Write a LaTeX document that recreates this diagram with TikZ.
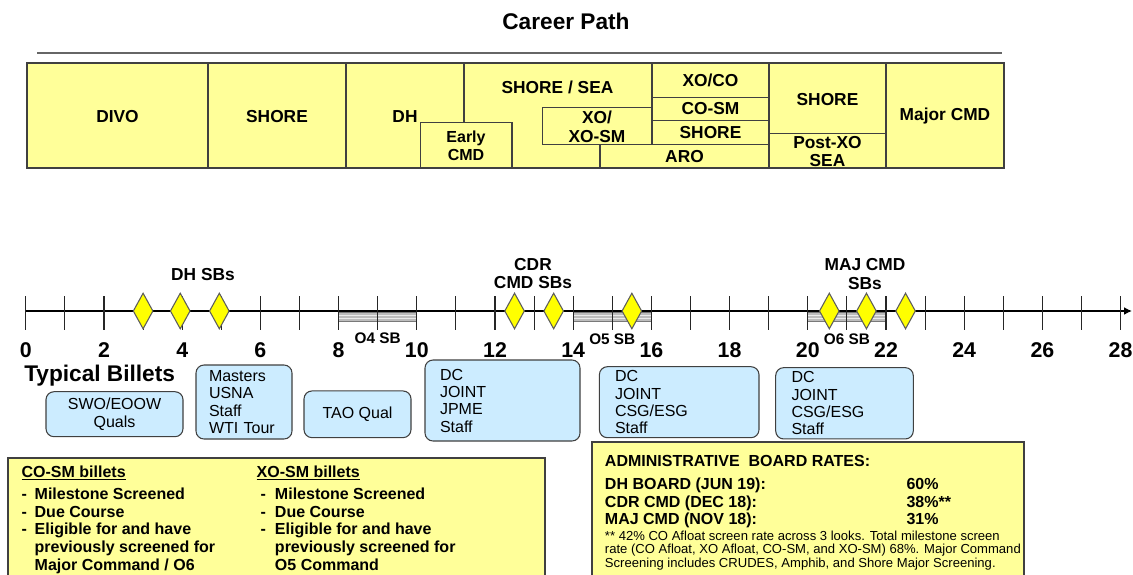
\documentclass[tikz,border=0pt]{standalone}
\usepackage{fontspec}
\setmainfont{Liberation Sans}
\usepackage{xcolor}
\usepackage{tikz}
\usetikzlibrary{arrows.meta, positioning, shapes.geometric, calc}
\definecolor{pathyellow}{HTML}{FFFF99}
\definecolor{billetblue}{HTML}{CCECFF}
\definecolor{gridink}{HTML}{404040}
\definecolor{sbyellow}{HTML}{FFFF00}
\definecolor{bargray}{HTML}{BDBDBD}
\newlength\pxl
\setlength\pxl{0.75pt}
\tikzset{
  declare function={yrx(\t)=25.8+39.1*\t;},
  titletext/.style={font=\bfseries\fontsize{17}{19}\selectfont, inner sep=0pt},
  rulegray/.style={draw=gridink!80, line width=1.1pt},
  cellline/.style={draw=gridink, line width=0.9pt},
  celltext/.style={font=\bfseries\fontsize{13}{14.2}\selectfont, align=center, inner sep=0pt},
  smalltext/.style={font=\bfseries\fontsize{12}{13.5}\selectfont, align=center, inner sep=0pt},
  axisline/.style={draw=black, line width=1.8pt, -{Latex[length=6pt, width=6pt]}},
  tickline/.style={draw=black!85, line width=0.8pt},
  sbbar/.style={draw=gridink!70, fill=bargray, line width=0.6pt},
  barstripe/.style={draw=white!85!gray, line width=0.6pt},
  sbmark/.style={diamond, draw=gridink!85, fill=sbyellow, line width=0.8pt,
    minimum width=20\pxl, minimum height=36\pxl, inner sep=0pt},
  sblabel/.style={font=\bfseries\fontsize{13}{14.2}\selectfont, align=center, inner sep=0pt},
  yearlabel/.style={font=\bfseries\fontsize{16}{16}\selectfont, inner sep=0pt},
  oslabel/.style={font=\bfseries\fontsize{11.5}{12}\selectfont, inner sep=0pt},
  billet/.style={draw=gridink, fill=billetblue, rounded corners=6pt, line width=0.8pt,
    font=\fontsize{12}{13}\selectfont, inner ysep=0pt},
  notebox/.style={draw=gridink, fill=pathyellow, line width=0.9pt},
  notetext/.style={font=\bfseries\fontsize{12}{13.2}\selectfont, inner sep=0pt, anchor=base west}
}
\begin{document}
\begin{tikzpicture}[x=0.75pt, y=-0.75pt]
\useasboundingbox (0,0) rectangle (1133,575);
% title
\node[titletext] (title) at (566,21) {Career Path};
\draw[rulegray] (37,53) -- (1002,53);

% career path table
\fill[pathyellow] (27,63) rectangle (1004,168);
\draw[cellline] (208,63) -- (208,168);
\draw[cellline] (346,63) -- (346,168);
\draw[cellline] (464,63) -- (464,122.7);
\draw[cellline] (652,63) -- (652,144.3);
\draw[cellline] (769,63) -- (769,168);
\draw[cellline] (886,63) -- (886,168);
\draw[cellline] (652,97.3) -- (769,97.3);
\draw[cellline] (652,120.7) -- (769,120.7);
\draw[cellline] (769,133.3) -- (886,133.3);
\draw[cellline, fill=pathyellow] (420.7,122.7) rectangle (512,168);
\draw[cellline, fill=pathyellow] (542.7,107.7) rectangle (652,144.3);
\draw[cellline, fill=pathyellow] (600,144.3) rectangle (769,168);
\draw[cellline] (27,63) rectangle (1004,168);
\node[celltext] (divo) at (117.5,117) {DIVO};
\node[celltext] (shorea) at (277,117) {SHORE};
\node[celltext] (dh) at (405,117) {DH};
\node[smalltext] (earlycmd) at (466,146) {Early\\CMD};
\node[celltext] (shoresea) at (557.5,87.5) {SHORE / SEA};
\node[celltext] (xosm) at (597,127) {XO/\\XO-SM};
\node[celltext] (xoco) at (710.5,80.5) {XO/CO};
\node[celltext] (cosm) at (710.5,109) {CO-SM};
\node[celltext] (shoreb) at (710.5,132.5) {SHORE};
\node[celltext] (aro) at (684.5,156.5) {ARO};
\node[celltext] (shorec) at (827.5,100) {SHORE};
\node[celltext] (postxo) at (827.5,151.5) {Post-XO\\SEA};
\node[celltext] (majcmd) at (945,116.5) {Major CMD};

% timeline
\foreach \a in {8,14,20} {
  \draw[sbbar] ({yrx(\a)},312) rectangle ({yrx(\a+2)},321);
  \draw[barstripe] ({yrx(\a)},315) -- ({yrx(\a+2)},315) ({yrx(\a)},318) -- ({yrx(\a+2)},318);
}
\coordinate (axstart) at ({yrx(0)},311);
\coordinate (axend) at (1132,311);
\draw[axisline] (axstart) -- (axend);
\foreach \t in {0,...,28}
  \draw[tickline] ({yrx(\t)},296) -- ({yrx(\t)},330);
\foreach \t in {0,2,...,28}
  \node[yearlabel] (yr\t) at ({yrx(\t)},350) {\t};
\node[oslabel] (ofoursb) at ({yrx(9)},338) {O4 SB};
\node[oslabel] (ofivesb) at ({yrx(15)},339) {O5 SB};
\node[oslabel] (osixsb) at ({yrx(21)},339) {O6 SB};
\foreach \t [count=\i] in {3,3.95,4.95,12.5,13.5,15.5,20.55,21.5,22.5}
  \node[sbmark] (sb\i) at ({yrx(\t)},311) {};
\node[sblabel] (dhsbs) at (203,275) {DH SBs};
\node[sblabel] (cdrsbs) at (533,273.5) {CDR\\CMD SBs};
\node[sblabel] (majsbs) at (865,274) {MAJ CMD\\SBs};

% typical billets
\node[font=\bfseries\fontsize{17}{19}\selectfont, inner sep=0pt, anchor=west] (billets) at (24,376) {Typical Billets};
\node[billet, minimum width=137\pxl, minimum height=45\pxl, align=center] (swo) at (114.5,414.2) {SWO/EOOW\\Quals};
\node[billet, minimum height=74\pxl, text width=70\pxl, inner xsep=13\pxl, align=left] (masters) at (244,402) {Masters\\USNA\\Staff\\WTI Tour};
\node[billet, minimum width=107\pxl, minimum height=46.7\pxl, align=center] (tao) at (357.5,414.3) {TAO Qual};
\node[billet, minimum height=81\pxl, text width=125\pxl, inner xsep=15\pxl, align=left] (jpme) at (502.5,400.5) {DC\\JOINT\\JPME\\Staff};
\node[billet, minimum height=71\pxl, text width=128.4\pxl, inner xsep=15.6\pxl, align=left] (csga) at (679.2,402.2) {DC\\JOINT\\CSG/ESG\\Staff};
\node[billet, minimum height=71.3\pxl, text width=106\pxl, inner xsep=15.8\pxl, align=left] (csgb) at (844.5,403.3) {DC\\JOINT\\CSG/ESG\\Staff};

% note boxes
\draw[notebox] (8,458) rectangle (545,600);
\draw[notebox] (592,442) rectangle (1024,600);
\node[notetext] (cosmnote) at (21.4,477.4) {\begin{tabular}[t]{@{}l@{\hspace{7.7\pxl}}l@{}}
  \multicolumn{2}{@{}l@{}}{\underline{CO-SM billets}}\\[3.5pt]
  - & Milestone Screened\\
  - & Due Course\\
  - & Eligible for and have\\
    & previously screened for\\
    & Major Command / O6
\end{tabular}};
\node[notetext] (xosmnote) at (256.4,477.4) {\begin{tabular}[t]{@{\hspace{4\pxl}}l@{\hspace{9\pxl}}l@{}}
  \multicolumn{2}{@{}l@{}}{\underline{XO-SM billets}}\\[3.5pt]
  - & Milestone Screened\\
  - & Due Course\\
  - & Eligible for and have\\
    & previously screened for\\
    & O5 Command
\end{tabular}};
\node[notetext] (rates) at (604.7,466.4) {\begin{tabular}[t]{@{}p{226.2pt}@{}l@{}}
  \multicolumn{2}{@{}l@{}}{ADMINISTRATIVE\ \ BOARD RATES:}\\[4.3pt]
  DH BOARD (JUN 19): & 60\%\\
  CDR CMD (DEC 18): & 38\%**\\
  MAJ CMD (NOV 18): & 31\%
\end{tabular}};
\node[notetext, font=\fontsize{9.8}{9.9}\selectfont] (ratefoot) at (604.7,540.4) {\begin{tabular}[t]{@{}l@{}}
  ** 42\% CO Afloat screen rate across 3 looks. Total milestone screen\\
  rate (CO Afloat, XO Afloat, CO-SM, and XO-SM) 68\%. Major Command\\
  Screening includes CRUDES, Amphib, and Shore Major Screening.
\end{tabular}};
\end{tikzpicture}
\end{document}
